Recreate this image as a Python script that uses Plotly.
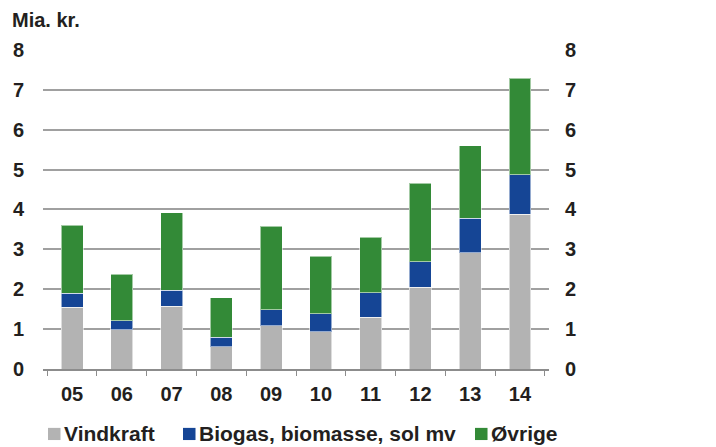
"""
Investeringer i vedvarende energi, mia. kr.
Plotly stablet søjlediagram
"""

import plotly.graph_objects as go

# data
years = ['05', '06', '07', '08', '09', '10', '11', '12', '13', '14']
vindkraft = [1.55, 0.98, 1.57, 0.56, 1.08, 0.93, 1.30, 2.05, 2.91, 3.88]
biogas = [0.35, 0.23, 0.40, 0.23, 0.41, 0.46, 0.61, 0.64, 0.87, 0.99]
oevrige = [1.70, 1.17, 1.94, 1.00, 2.09, 1.43, 1.39, 1.96, 1.81, 2.42]
y_ticks = [0, 1, 2, 3, 4, 5, 6, 7, 8]

FONT = 'Liberation Sans, Arial, sans-serif'
TXT = '#231f20'
TICKFONT = dict(family=FONT, size=20, color=TXT, weight='bold')

series = [
    ('Vindkraft', vindkraft, '#b3b3b3'),
    ('Biogas, biomasse, sol mv', biogas, '#154595'),
    ('Øvrige', oevrige, '#338a37'),
]

fig = go.Figure()

for name, vals, col in series:
    fig.add_trace(go.Bar(
        x=years,
        y=vals,
        name=name,
        marker=dict(color=col, line=dict(color='rgba(255,255,255,0.55)', width=1)),
    ))

# usynlig serie, så højre akse bliver tegnet
fig.add_trace(go.Scatter(
    x=years, y=vindkraft, yaxis='y2', mode='markers',
    marker=dict(opacity=0), showlegend=False, hoverinfo='skip',
))

# egen forklaring under diagrammet (plotly's legend ombrydes / skubber marginen)
legend_x = [0.0099, 0.2767, 0.8538]   # venstre kant af farvefelt, paper-koordinater
box_w = 0.0247
shapes = []
annotations = []
for (name, _, col), x0 in zip(series, legend_x):
    shapes.append(dict(
        type='rect', xref='paper', yref='paper',
        x0=x0, x1=x0 + box_w, y0=-0.222, y1=-0.184,
        fillcolor=col, line=dict(width=0),
    ))
    annotations.append(dict(
        text=f'<b>{name}</b>', xref='paper', yref='paper',
        x=x0 + box_w + 0.003, y=-0.202,
        xanchor='left', yanchor='middle', showarrow=False,
        font=dict(family=FONT, size=21, color=TXT),
    ))

annotations.append(dict(
    text='<b>Mia. kr.</b>',
    xref='paper', yref='paper',
    x=-0.066, y=1.09,
    xanchor='left', yanchor='middle',
    showarrow=False,
    font=dict(family=FONT, size=20, color=TXT),
))

# siden har 8 px margen i browseren, derfor 708 x 439
fig.update_layout(
    barmode='stack',
    bargap=0.56,
    width=708,
    height=439,
    margin=dict(l=35, r=167, t=41, b=78, autoexpand=False),
    plot_bgcolor='white',
    paper_bgcolor='white',
    font=dict(family=FONT, size=20, color=TXT),
    showlegend=False,
    xaxis=dict(
        showline=True,
        linecolor='#8c8c8c',
        linewidth=1.5,
        ticks='outside',
        tickson='boundaries',
        ticklen=5,
        tickcolor='#8c8c8c',
        tickfont=TICKFONT,
        ticklabelstandoff=6,
    ),
    yaxis=dict(
        range=[0, 8.02],
        tickvals=y_ticks,
        showgrid=True,
        gridcolor='#a0a0a0',
        gridwidth=1.5,
        zeroline=False,
        tickfont=TICKFONT,
        ticklabelstandoff=18,
    ),
    yaxis2=dict(
        range=[0, 8.02],
        tickvals=y_ticks,
        overlaying='y',
        side='right',
        showgrid=False,
        zeroline=False,
        tickfont=TICKFONT,
        ticklabelstandoff=15,
    ),
    shapes=shapes,
    annotations=annotations,
)

fig.write_html("out.html")
